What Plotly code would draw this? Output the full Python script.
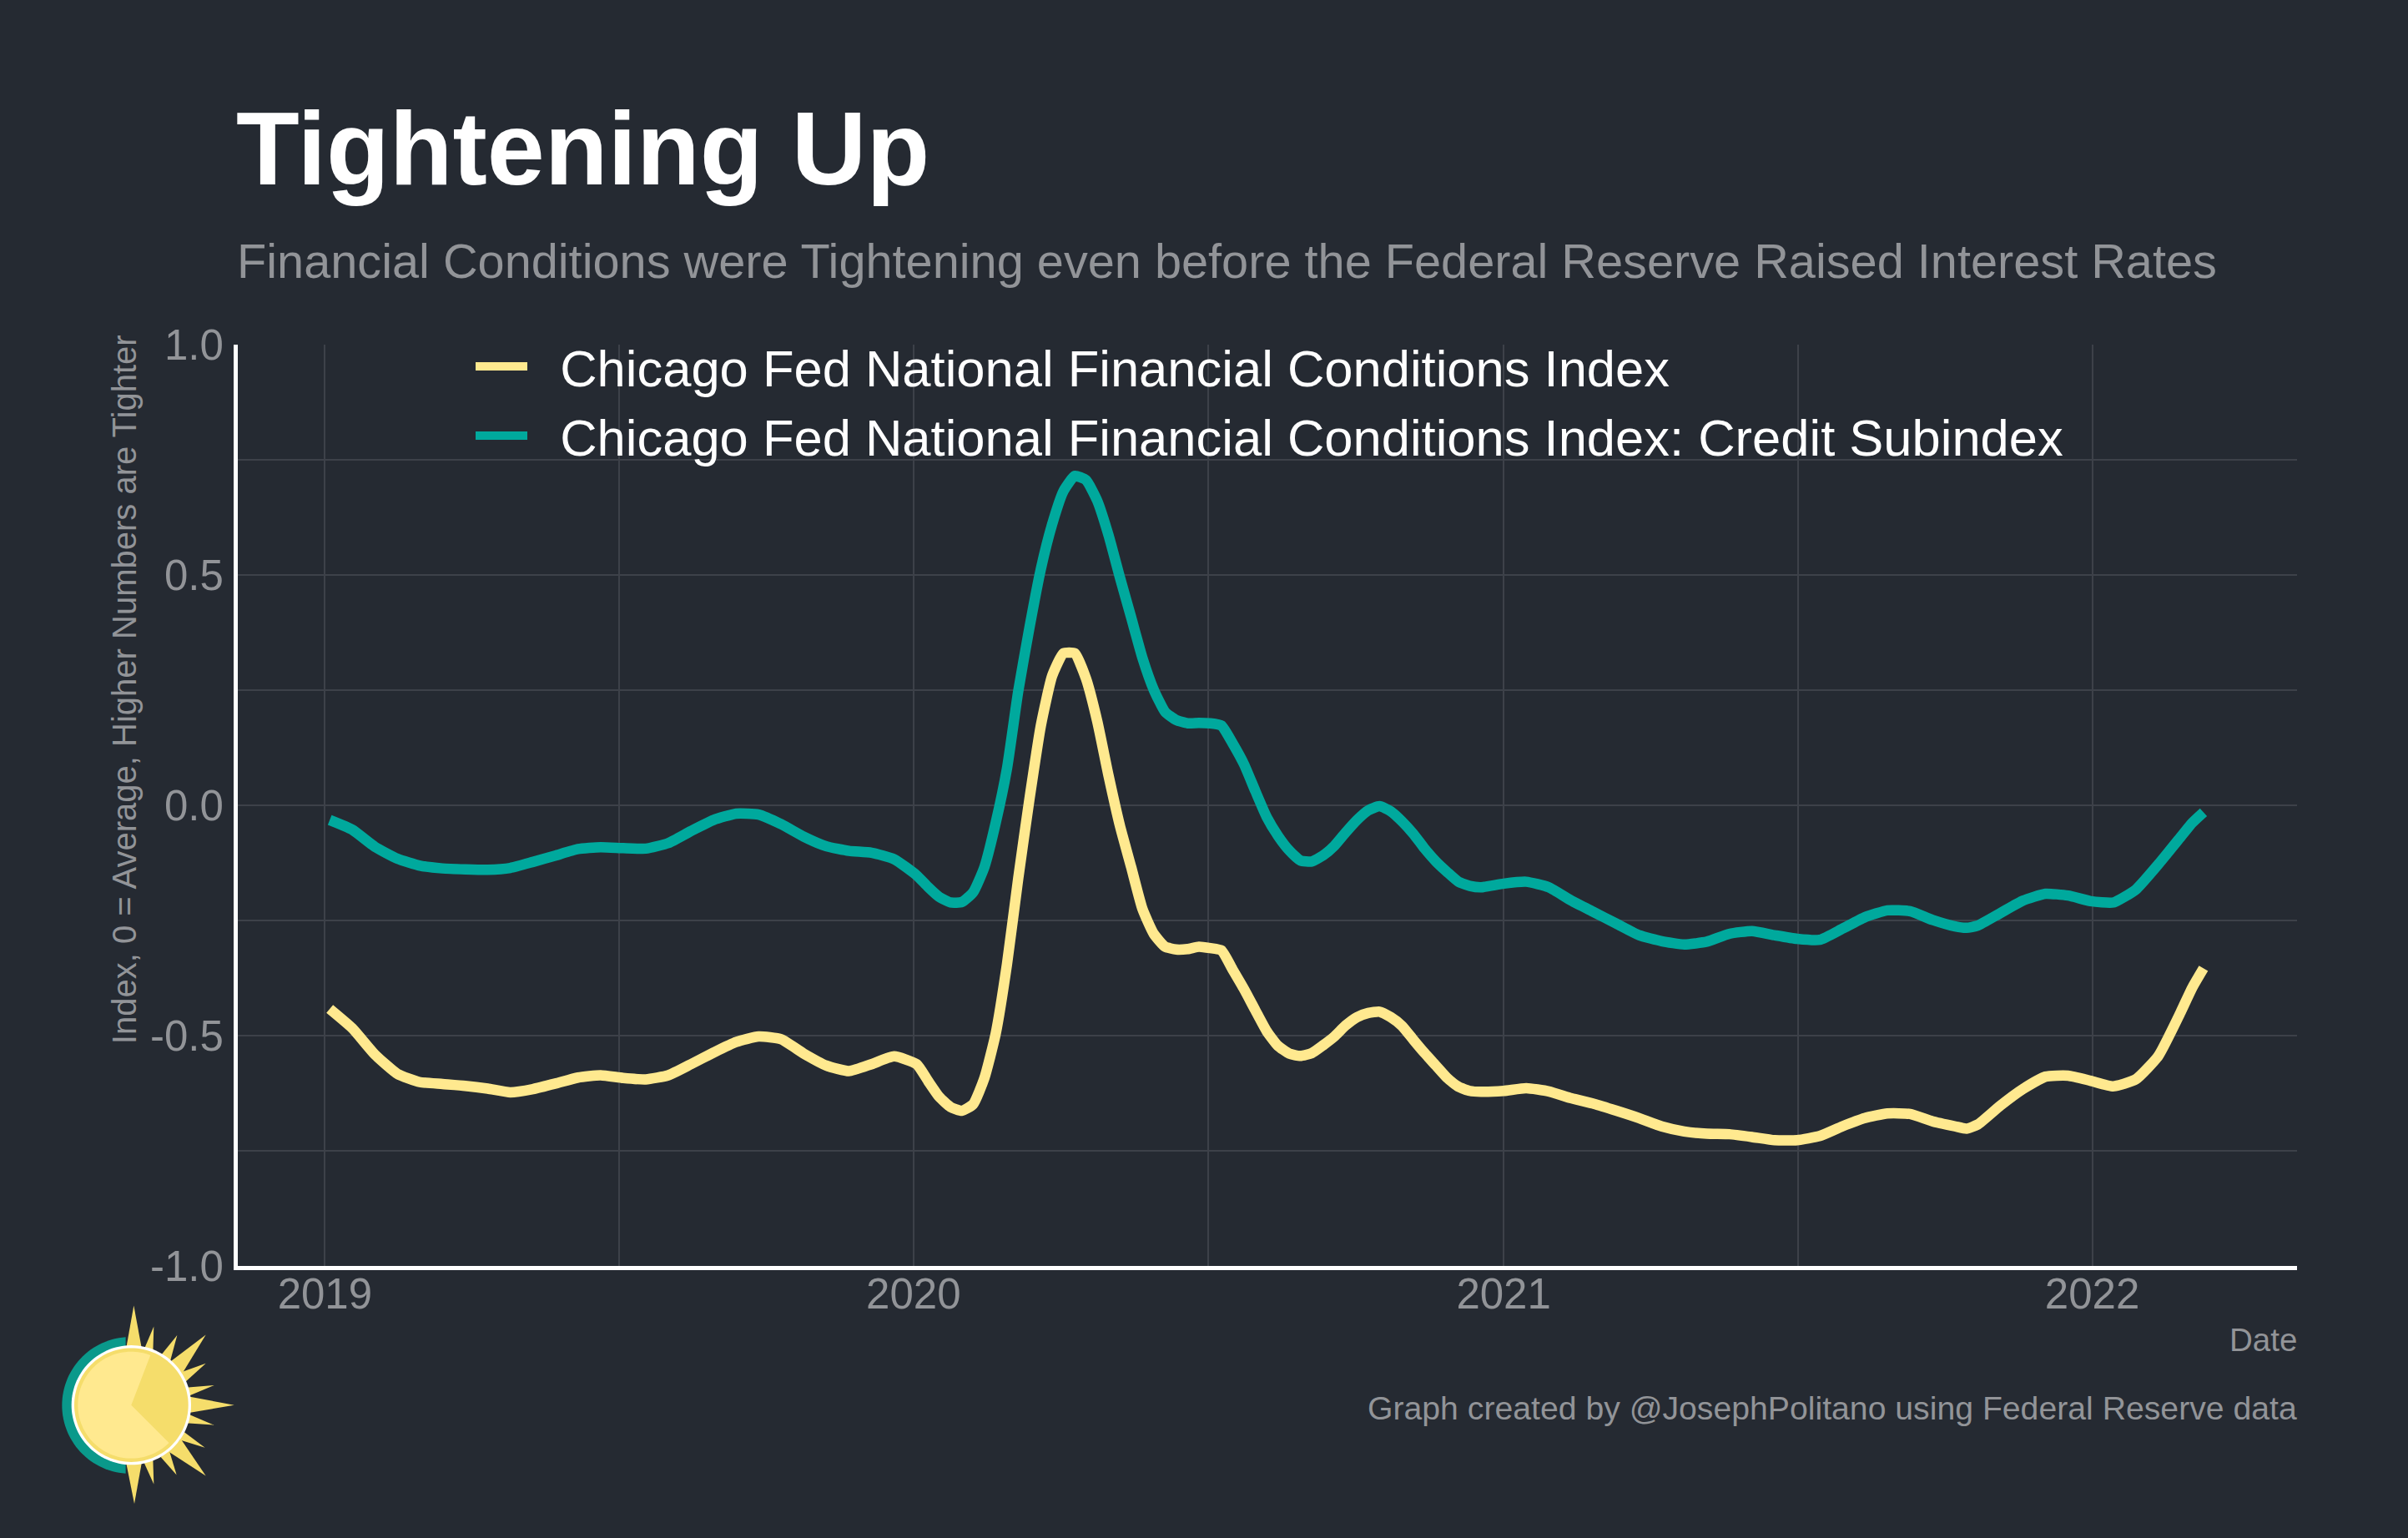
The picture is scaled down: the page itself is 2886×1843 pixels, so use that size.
import math
import plotly.graph_objects as go

# ---------- data ----------
dates = [
    "2019-01-04","2019-01-18","2019-02-01","2019-02-15","2019-03-01","2019-03-15","2019-03-29","2019-04-12",
    "2019-04-26","2019-05-10","2019-05-24","2019-06-07","2019-06-21","2019-07-05","2019-07-19",
    "2019-08-02","2019-08-16","2019-08-30","2019-09-13","2019-09-27","2019-10-11","2019-10-25","2019-11-08",
    "2019-11-22","2019-12-06","2019-12-20","2020-01-03","2020-01-10","2020-01-17","2020-01-24","2020-01-31",
    "2020-02-07","2020-02-14","2020-02-21","2020-02-28","2020-03-06","2020-03-13","2020-03-20","2020-03-27",
    "2020-04-03","2020-04-10","2020-04-17","2020-04-24","2020-05-01","2020-05-08","2020-05-15","2020-05-22",
    "2020-05-29","2020-06-05","2020-06-12","2020-06-19","2020-06-26","2020-07-03","2020-07-10","2020-07-17",
    "2020-07-24","2020-07-31","2020-08-07",
    "2020-08-14","2020-08-21","2020-08-28","2020-09-04","2020-09-11","2020-09-18","2020-09-25","2020-10-02",
    "2020-10-09","2020-10-16","2020-10-23","2020-10-30","2020-11-06","2020-11-13","2020-11-20","2020-11-27",
    "2020-12-04","2020-12-11","2020-12-18","2021-01-01","2021-01-15","2021-01-29","2021-02-12","2021-02-26",
    "2021-03-12","2021-03-26","2021-04-09","2021-04-23","2021-05-07","2021-05-21","2021-06-04","2021-06-18",
    "2021-07-02","2021-07-16","2021-07-30","2021-08-13","2021-08-27","2021-09-10","2021-09-24","2021-10-08",
    "2021-10-15","2021-10-22","2021-11-05","2021-11-19","2021-12-03","2021-12-17","2021-12-31","2022-01-14",
    "2022-01-28","2022-02-11","2022-02-25","2022-03-04","2022-03-11",
]
nfci = [
    -.442,-.484,-.541,-.583,-.601,-.605,-.609,-.615,-.623,-.616,-.604,-.591,-.586,-.592,-.595,
    -.586,-.562,-.537,-.514,-.502,-.508,-.539,-.565,-.577,-.562,-.545,-.562,-.598,-.633,-.655,-.663,
    -.649,-.592,-.496,-.345,-.158,.015,.173,.281,.330,.330,.275,.182,.064,-.044,-.134,-.225,-.279,-.307,
    -.313,-.312,-.307,-.310,-.315,-.357,-.399,-.445,-.490,
    -.522,-.539,-.544,-.538,-.521,-.502,-.478,-.460,-.451,-.448,-.460,-.479,-.509,-.538,-.565,-.592,-.611,
    -.620,-.622,-.620,-.614,-.621,-.636,-.648,
    -.663,-.679,-.697,-.708,-.713,-.714,-.720,-.727,-.727,-.718,-.697,-.679,-.669,-.670,-.686,-.697,-.702,
    -.693,-.652,-.616,-.589,-.587,-.598,-.610,-.595,-.544,-.448,-.396,-.354,
]
credit = [
    -.032,-.053,-.090,-.116,-.131,-.137,-.139,-.140,-.136,-.123,-.109,-.095,-.091,-.093,-.094,
    -.082,-.056,-.032,-.018,-.020,-.041,-.068,-.089,-.099,-.103,-.117,-.152,-.177,-.199,-.211,-.210,
    -.189,-.134,-.038,.080,.248,.387,.513,.610,.682,.715,.706,.661,.586,.495,.408,.320,.251,.203,
    .185,.178,.179,.178,.173,.134,.089,.031,-.025,
    -.066,-.098,-.120,-.122,-.109,-.088,-.059,-.032,-.011,-.002,-.013,-.035,-.062,-.094,-.122,-.145,-.166,
    -.175,-.178,-.170,-.166,-.178,-.207,-.232,
    -.257,-.282,-.295,-.302,-.296,-.279,-.273,-.282,-.290,-.292,-.268,-.243,-.228,-.230,-.249,-.263,-.266,
    -.261,-.234,-.207,-.192,-.196,-.208,-.211,-.183,-.128,-.068,-.038,-.015,
]
nfci_name = "Chicago Fed National Financial Conditions Index"
credit_name = "Chicago Fed National Financial Conditions Index: Credit Subindex"
x_tick_vals = ["2019-01-01", "2020-01-01", "2021-01-01", "2022-01-01"]
x_tick_text = ["2019", "2020", "2021", "2022"]
x_minor_vals = ["2019-07-02 12:00", "2020-07-02", "2021-07-02 12:00"]
y_tick_vals = [-1.0, -0.5, 0.0, 0.5, 1.0]
y_tick_text = ["-1.0", "-0.5", "0.0", "0.5", "1.0"]

# ---------- layout constants ----------
W, H = 2886, 1843
L, R, T, B = 285, 2753, 412.5, 1517.5
BG = "#252A32"
YELLOW = "#FFE98F"
TEAL = "#00A99D"
GRID = "#3D4149"
GREY = "#929498"
FONT = "Liberation Sans"
GAP = "  "

def fx(px):
    return (px - L) / (R - L)

def fy(py):
    return (B - py) / (B - T)

fig = go.Figure()
fig.add_trace(go.Scatter(x=dates, y=nfci, name=GAP + nfci_name, mode="lines",
                         line=dict(color=YELLOW, width=12.5, shape="spline", smoothing=0.5)))
fig.add_trace(go.Scatter(x=dates, y=credit, name=GAP + credit_name, mode="lines",
                         line=dict(color=TEAL, width=12.5, shape="spline", smoothing=0.5)))

# ---------- sun logo (decoration, in picture pixels of the 3x crop) ----------
OX, OY = 40, 1530
def zx(v):
    return fx(OX + v / 3)
def zy(v):
    return fy(OY + v / 3)
def poly(points):
    return "M" + " L".join(f"{zx(a):.5f},{zy(b):.5f}" for a, b in points) + " Z"
def arc_points(cx, cy, r, a0, a1, n=60):
    return [(cx + r * math.cos(math.radians(a0 + (a1 - a0) * i / n)),
             cy - r * math.sin(math.radians(a0 + (a1 - a0) * i / n))) for i in range(n + 1)]

CX, CY = 352, 463
GOLD = "#F5DD6B"
rays = [
    ((361, 105), (333, 262), (390, 262)), ((433, 180), (397, 265), (430, 275)),
    ((517, 212), (460, 282), (492, 305)), ((620, 210), (495, 305), (535, 350)),
    ((620, 313), (530, 345), (548, 378)), ((650, 392), (548, 400), (555, 432)),
    ((722, 463), (555, 432), (555, 492)), ((650, 535), (555, 495), (548, 528)),
    ((617, 616), (535, 555), (515, 585)), ((620, 718), (530, 585), (485, 630)),
    ((515, 715), (488, 625), (458, 650)), ((433, 748), (430, 658), (397, 668)),
    ((363, 818), (390, 668), (333, 668)),
]
shapes = []
shapes.append(dict(type="path", path=poly(arc_points(349, 464, 246, 94, 266)), fillcolor="#0A998B", line_width=0,
                   xref="paper", yref="paper", layer="above"))
for r in rays:
    shapes.append(dict(type="path", path=poly(r), fillcolor=GOLD, line_width=0,
                       xref="paper", yref="paper", layer="above"))
shapes.append(dict(type="path", path=poly(arc_points(CX, CY, 215, 0, 360, 120)), fillcolor="#FFFFFF", line_width=0,
                   xref="paper", yref="paper", layer="above"))
shapes.append(dict(type="path", path=poly(arc_points(CX, CY, 205, 0, 360, 120)), fillcolor=GOLD, line_width=0,
                   xref="paper", yref="paper", layer="above"))
shapes.append(dict(type="path", path=poly([(CX, CY)] + arc_points(CX, CY, 192, 69, 315, 90)), fillcolor=YELLOW,
                   line_width=0, xref="paper", yref="paper", layer="above"))

annotations = [
    dict(text="Financial Conditions were Tightening even before the Federal Reserve Raised Interest Rates",
         x=fx(282), y=fy(312), xanchor="left", yanchor="middle", font=dict(size=57.7, color=GREY, family=FONT)),
    dict(text="Date", x=fx(2755), y=fy(1606), xanchor="right", yanchor="middle",
         font=dict(size=38.5, color=GREY, family=FONT)),
    dict(text="Graph created by @JosephPolitano using Federal Reserve data", x=fx(2755), y=fy(1688),
         xanchor="right", yanchor="middle", font=dict(size=39.2, color=GREY, family=FONT)),
    dict(text="Index, 0 = Average, Higher Numbers are Tighter", x=fx(149), y=fy(826), textangle=-90,
         xanchor="center", yanchor="middle", font=dict(size=40, color=GREY, family=FONT)),
]
for a in annotations:
    a.update(xref="paper", yref="paper", showarrow=False)

fig.update_layout(
    width=W, height=H, autosize=False,
    margin=dict(l=L, r=W - R, t=T, b=H - B, pad=0),
    paper_bgcolor=BG, plot_bgcolor=BG,
    font=dict(family=FONT, color=GREY),
    title=dict(text="<b>Tightening Up</b>", x=283 / W, xref="container", xanchor="left",
               y=1 - 178 / H, yref="container", yanchor="middle",
               font=dict(size=124, color="#FFFFFF", family=FONT)),
    legend=dict(x=fx(565), y=fy(392), xanchor="left", yanchor="top", bgcolor="rgba(0,0,0,0)",
                font=dict(size=61.5, color="#FFFFFF", family=FONT), itemwidth=62, borderwidth=0),
    xaxis=dict(type="date", range=["2018-11-08", "2022-05-08"], tickmode="array", tickvals=x_tick_vals,
               ticktext=x_tick_text, showgrid=True, gridcolor=GRID, gridwidth=2, ticks="",
               minor=dict(tickmode="array", tickvals=x_minor_vals, showgrid=True, gridcolor=GRID, gridwidth=2, ticks=""),
               showline=True, linecolor="#FFFFFF", linewidth=5, zeroline=False, ticklabelstandoff=-15,
               tickfont=dict(size=51, color=GREY, family=FONT)),
    yaxis=dict(range=[-1, 1], tickmode="array", tickvals=y_tick_vals, ticktext=y_tick_text,
               showgrid=True, gridcolor=GRID, gridwidth=2, ticks="",
               minor=dict(dtick=0.25, tick0=0, showgrid=True, gridcolor=GRID, gridwidth=2, ticks=""),
               showline=True, linecolor="#FFFFFF", linewidth=5, zeroline=False, ticklabelstandoff=2,
               tickfont=dict(size=51, color=GREY, family=FONT)),
    shapes=shapes,
    annotations=annotations,
)

fig.write_html("out.html", config={"displayModeBar": False},
               post_script="document.body.style.margin='0';document.body.style.background='" + BG + "';")
